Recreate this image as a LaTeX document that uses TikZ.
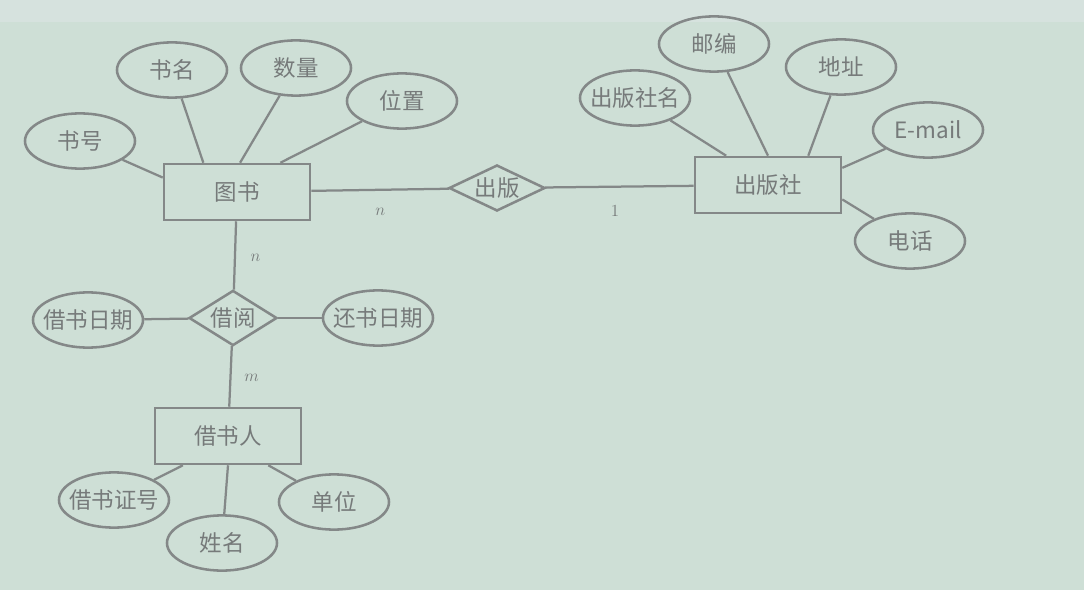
\documentclass[tikz,border=0pt]{standalone}
\usepackage{fontspec}
\setmainfont{Noto Sans CJK SC}
\usetikzlibrary{shapes.geometric}
\definecolor{board}{RGB}{206,223,214}
\definecolor{band}{RGB}{214,226,222}
\definecolor{ink}{RGB}{132,136,136}
\definecolor{txt}{RGB}{118,122,122}

\begin{document}
\begin{tikzpicture}[
  x=0.025cm, y=-0.025cm,
  font=\fontsize{16}{19}\selectfont,
  entity/.style={draw=ink, line width=1.8pt, minimum width=3.65cm, minimum height=1.4cm, text=txt},
  attr/.style={draw=ink, ellipse, line width=1.8pt, inner xsep=-6pt, inner ysep=0pt,
    minimum width=2.75cm, minimum height=1.38cm, text=txt},
  rel/.style={draw=ink, diamond, aspect=2, line width=1.8pt, inner sep=0pt, text=txt},
  card/.style={font=\fontsize{12}{14}\selectfont, text=txt},
  link/.style={draw=ink, line width=1.6pt}
]

% page and screen strip
\fill[board] (0,0) rectangle (1084,590);
\fill[band] (0,0) rectangle (1084,22);
\useasboundingbox (0,0) rectangle (1084,590);

% entities
\node[entity] (tushu)     at (237,192) {图书};
\node[entity] (chubanshe) at (768,185) {出版社};
\node[entity] (jieshuren) at (228,436) {借书人};

% relationships
\node[rel, minimum width=2.4cm, minimum height=1.15cm] (chuban) at (497,188) {出版};
\node[rel, minimum width=2.2cm, minimum height=1.38cm] (jieyue) at (233,318) {借阅};

% attributes of 图书
\node[attr] (shuhao)   at (80,141)  {书号};
\node[attr] (shuming)  at (172,70)  {书名};
\node[attr] (shuliang) at (296,68)  {数量};
\node[attr] (weizhi)   at (402,101) {位置};

% attributes of 出版社
\node[attr] (cbsming)  at (635,98)  {出版社名};
\node[attr] (youbian)  at (714,44)  {邮编};
\node[attr] (dizhi)    at (841,67)  {地址};
\node[attr] (email)    at (928,130) {E-mail};
\node[attr] (dianhua)  at (910,241) {电话};

% attributes of 借阅 and 借书人
\node[attr] (jieshurq) at (88,320)  {借书日期};
\node[attr] (huanshurq) at (378,318) {还书日期};
\node[attr] (zhenghao) at (114,500) {借书证号};
\node[attr] (xingming) at (222,543) {姓名};
\node[attr] (danwei)   at (334,502) {单位};

% attribute lines
\draw[link] (shuhao) -- (tushu.169);
\draw[link] (shuming) -- (tushu.139);
\draw[link] (shuliang) -- (tushu.84);
\draw[link] (weizhi) -- (tushu.34);

\draw[link] (cbsming) -- (chubanshe.145);
\draw[link] (youbian) -- (chubanshe.90);
\draw[link] (dizhi) -- (chubanshe.36);
\draw[link] (email) -- (chubanshe.13);
\draw[link] (dianhua) -- (chubanshe.-11);

\draw[link] (jieshurq) -- (jieyue);
\draw[link] (jieyue) -- (huanshurq);

\draw[link] (zhenghao) -- (jieshuren.213);
\draw[link] (xingming) -- (jieshuren.270);
\draw[link] (danwei) -- (jieshuren.324);

% relationship lines with cardinalities
\draw[link] (tushu) -- node[card, pos=0.5, below=0.32cm] {$n$} (chuban);
\draw[link] (chuban) -- node[card, pos=0.47, below=0.32cm] {$1$} (chubanshe);
\draw[link] (tushu) -- node[card, pos=0.54, right=0.25cm] {$n$} (jieyue);
\draw[link] (jieyue) -- node[card, pos=0.52, right=0.2cm] {$m$} (jieshuren);

\end{tikzpicture}
\end{document}
